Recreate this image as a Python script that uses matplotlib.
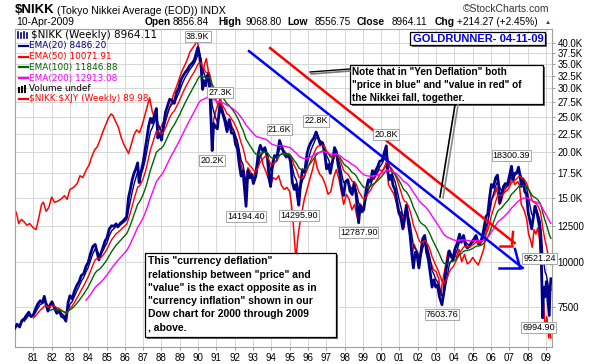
import numpy as np
import matplotlib
matplotlib.use("Agg")
import matplotlib.pyplot as plt
from matplotlib.patches import Rectangle
from matplotlib.ticker import NullLocator

# ---- data (weekly $NIKK, decimal years) ----
NIKK_DATES = [
    1980.00, 1980.12, 1980.25, 1980.38, 1980.50, 1980.62, 1980.75, 1980.88,
    1981.00, 1981.12, 1981.25, 1981.38, 1981.50, 1981.60, 1981.70, 1981.80, 1981.92,
    1982.02, 1982.15, 1982.28, 1982.42, 1982.55, 1982.68, 1982.78, 1982.90,
    1983.00, 1983.12, 1983.25, 1983.38, 1983.50, 1983.62, 1983.75, 1983.88,
    1984.00, 1984.12, 1984.25, 1984.38, 1984.48, 1984.58, 1984.70, 1984.82, 1984.92,
    1985.02, 1985.15, 1985.28, 1985.40, 1985.52, 1985.62, 1985.75, 1985.88,
    1986.00, 1986.10, 1986.20, 1986.30, 1986.40, 1986.50, 1986.60, 1986.70, 1986.78, 1986.88,
    1987.00, 1987.10, 1987.20, 1987.30, 1987.40, 1987.50, 1987.60, 1987.72, 1987.80, 1987.90,
    1988.00, 1988.10, 1988.22, 1988.35, 1988.45, 1988.58, 1988.70, 1988.82, 1988.95,
    1989.05, 1989.18, 1989.30, 1989.42, 1989.55, 1989.68, 1989.80, 1989.90, 1989.99,
    1990.08, 1990.16, 1990.25, 1990.32, 1990.42, 1990.50, 1990.58, 1990.64, 1990.70, 1990.77,
    1990.85, 1990.95, 1991.05, 1991.20, 1991.32, 1991.45, 1991.58, 1991.70, 1991.82, 1991.95,
    1992.05, 1992.15, 1992.25, 1992.35, 1992.45, 1992.55, 1992.62, 1992.72, 1992.82, 1992.92,
    1993.02, 1993.15, 1993.28, 1993.40, 1993.52, 1993.65, 1993.78, 1993.88, 1993.96,
    1994.06, 1994.18, 1994.30, 1994.45, 1994.58, 1994.70, 1994.82, 1994.95,
    1995.05, 1995.15, 1995.25, 1995.35, 1995.42, 1995.50, 1995.60, 1995.70, 1995.82, 1995.95,
    1996.05, 1996.18, 1996.32, 1996.45, 1996.55, 1996.68, 1996.80, 1996.92,
    1997.02, 1997.12, 1997.22, 1997.35, 1997.45, 1997.55, 1997.65, 1997.75, 1997.85, 1997.95,
    1998.05, 1998.18, 1998.30, 1998.42, 1998.52, 1998.62, 1998.70, 1998.77, 1998.85, 1998.95,
    1999.05, 1999.18, 1999.30, 1999.42, 1999.52, 1999.62, 1999.72, 1999.82, 1999.92,
    2000.05, 2000.15, 2000.28, 2000.36, 2000.45, 2000.55, 2000.65, 2000.75, 2000.85, 2000.95,
    2001.08, 2001.18, 2001.28, 2001.38, 2001.48, 2001.58, 2001.68, 2001.76, 2001.86, 2001.96,
    2002.06, 2002.16, 2002.28, 2002.38, 2002.48, 2002.58, 2002.68, 2002.78, 2002.88, 2002.98,
    2003.08, 2003.18, 2003.32, 2003.42, 2003.52, 2003.62, 2003.72, 2003.82, 2003.92,
    2004.02, 2004.15, 2004.28, 2004.38, 2004.50, 2004.60, 2004.70, 2004.82, 2004.92,
    2005.05, 2005.18, 2005.30, 2005.40, 2005.52, 2005.62, 2005.72, 2005.82, 2005.92,
    2006.02, 2006.12, 2006.25, 2006.35, 2006.43, 2006.48, 2006.58, 2006.68, 2006.78, 2006.90,
    2007.00, 2007.12, 2007.20, 2007.30, 2007.42, 2007.50, 2007.58, 2007.66, 2007.76, 2007.84, 2007.94,
    2008.03, 2008.12, 2008.22, 2008.30, 2008.40, 2008.50, 2008.58, 2008.68, 2008.76, 2008.82,
    2008.88, 2008.95, 2009.02, 2009.10, 2009.18, 2009.22, 2009.27,
]
NIKK_CLOSE = [
    6560, 6720, 6600, 6880, 6950, 7100, 7250, 7050,
    7120, 7400, 7650, 7800, 7700, 8020, 7600, 7300, 7600,
    7750, 7450, 7200, 7300, 7050, 7000, 6850, 7700,
    8050, 7900, 8300, 8600, 8800, 9150, 9250, 9700,
    9950, 10500, 11000, 11150, 10600, 10100, 10550, 11000, 11400,
    11600, 12300, 12550, 12500, 12700, 12450, 12750, 12900,
    13100, 13300, 15000, 15800, 16800, 17500, 18000, 18700, 16500, 17600,
    18800, 20200, 21800, 23600, 24800, 24100, 25200, 26400, 21900, 22600,
    21600, 23500, 25800, 27000, 28000, 27800, 27300, 29200, 30100,
    31500, 32500, 33200, 33800, 34700, 35200, 36000, 37500, 38916,
    37000, 34500, 29800, 31500, 30500, 32500, 33000, 29500, 25000, 20221,
    24000, 23500, 23200, 27270, 25800, 24500, 22800, 24600, 22600, 22500,
    21000, 20500, 18500, 17200, 17800, 15600, 14194.4, 17800, 17000, 17400,
    16400, 17200, 19800, 20900, 20200, 20600, 19400, 17000, 16100,
    18500, 19600, 19300, 21552, 20600, 19800, 19400, 19700,
    18800, 16500, 15800, 16300, 15200, 14295.9, 16400, 17900, 17600, 19800,
    20700, 21400, 21900, 22750, 22000, 21000, 21200, 19800,
    18000, 18500, 17500, 19000, 20600, 20100, 18400, 17400, 15800, 15200,
    16600, 16800, 15600, 15300, 16500, 15400, 14000, 12787.9, 14300, 13700,
    13900, 15800, 16800, 16600, 17800, 17400, 17900, 18300, 18900,
    19000, 19800, 20833, 17700, 16800, 17300, 16200, 15800, 14800, 13800,
    13200, 12300, 13300, 14300, 12800, 11800, 10400, 9600, 10600, 10400,
    9600, 10500, 11600, 11800, 10600, 10100, 9300, 8500, 8900, 8500,
    8600, 8000, 7603.76, 8200, 9300, 10000, 10700, 10400, 10100,
    10800, 11200, 11900, 11300, 11800, 11100, 10900, 11000, 11300,
    11500, 11800, 11200, 11200, 11700, 12400, 13300, 13500, 15000,
    16300, 16000, 17000, 17300, 16000, 14500, 15300, 16100, 16400, 16300,
    17200, 18300.39, 16800, 17500, 17600, 18200, 17300, 16100, 16800, 15600, 15300,
    13600, 13000, 12300, 13100, 14200, 13700, 13000, 12200, 9521.24, 6994.9,
    8500, 8000, 8800, 7900, 7100, 8300, 8964.11,
]

# $NIKK:$XJY ratio (Nikkei valued against the yen index)
RATIO_DATES = [
    1980.00, 1980.10, 1980.20, 1980.35, 1980.50, 1980.65, 1980.80,
    1981.00, 1981.15, 1981.30, 1981.45, 1981.55, 1981.70, 1981.85,
    1982.00, 1982.15, 1982.30, 1982.50, 1982.70, 1982.85,
    1983.00, 1983.20, 1983.40, 1983.55, 1983.70, 1983.90,
    1984.05, 1984.20, 1984.35, 1984.50, 1984.65, 1984.80, 1984.95,
    1985.10, 1985.25, 1985.35, 1985.50, 1985.65, 1985.80, 1985.95,
    1986.10, 1986.20, 1986.35, 1986.50, 1986.65, 1986.80, 1986.95,
    1987.10, 1987.25, 1987.35, 1987.50, 1987.65, 1987.80, 1987.90,
    1988.05, 1988.20, 1988.35, 1988.50, 1988.65, 1988.80, 1988.95,
    1989.10, 1989.25, 1989.40, 1989.55, 1989.70, 1989.85, 1989.95,
    1990.05, 1990.15, 1990.25, 1990.35, 1990.45, 1990.55, 1990.65, 1990.75, 1990.85, 1990.95,
    1991.10, 1991.22, 1991.35, 1991.50, 1991.65, 1991.75, 1991.90,
    1992.05, 1992.20, 1992.35, 1992.50, 1992.62, 1992.72, 1992.85,
    1993.00, 1993.15, 1993.30, 1993.42, 1993.55, 1993.70, 1993.85, 1993.95,
    1994.10, 1994.25, 1994.40, 1994.55, 1994.70, 1994.85,
    1995.00, 1995.10, 1995.20, 1995.30, 1995.35, 1995.45, 1995.55, 1995.65, 1995.80, 1995.95,
    1996.10, 1996.25, 1996.40, 1996.50, 1996.65, 1996.80, 1996.95,
    1997.10, 1997.25, 1997.40, 1997.55, 1997.70, 1997.85, 1997.95,
    1998.10, 1998.25, 1998.40, 1998.55, 1998.65, 1998.77, 1998.85,
    1999.00, 1999.15, 1999.30, 1999.45, 1999.60, 1999.75, 1999.90,
    2000.05, 2000.20, 2000.30, 2000.40, 2000.55, 2000.70, 2000.85, 2000.95,
    2001.10, 2001.25, 2001.35, 2001.45, 2001.55, 2001.70, 2001.80, 2001.95,
    2002.10, 2002.25, 2002.40, 2002.55, 2002.70, 2002.85,
    2003.00, 2003.15, 2003.25, 2003.35, 2003.50, 2003.65, 2003.80, 2003.95,
    2004.10, 2004.25, 2004.40, 2004.55, 2004.70, 2004.85,
    2005.00, 2005.15, 2005.30, 2005.45, 2005.60, 2005.75, 2005.90,
    2006.05, 2006.20, 2006.30, 2006.45, 2006.55, 2006.70, 2006.85,
    2007.00, 2007.15, 2007.30, 2007.45, 2007.55, 2007.65, 2007.80, 2007.95,
    2008.05, 2008.15, 2008.25, 2008.35, 2008.45, 2008.55, 2008.65, 2008.75, 2008.82,
    2008.88, 2008.95, 2009.05, 2009.15, 2009.22, 2009.27,
]
RATIO_VALS = [
    203, 197, 186, 191, 188, 184, 186,
    181, 179, 193, 210, 213, 201, 206,
    220, 213, 214, 217, 222, 217,
    231, 234, 240, 252, 249, 262,
    270, 285, 297, 303, 317, 333, 348,
    363, 373, 369, 355, 342, 321, 307,
    297, 290, 307, 327, 337, 331, 348,
    371, 395, 413, 378, 363, 348, 337,
    350, 359, 378, 395, 421, 440, 463,
    487, 505, 525, 552, 566, 581, 596,
    559, 518, 477, 511, 530, 493, 408, 321, 359, 378,
    398, 413, 383, 355, 337, 359, 337,
    321, 301, 270, 254, 238, 265, 259,
    249, 262, 282, 288, 270, 259, 246, 237,
    249, 246, 252, 237, 231, 234,
    228, 210, 185, 158, 150, 170, 185, 197, 217, 231,
    246, 262, 282, 265, 254, 249, 238,
    224, 228, 249, 262, 246, 224, 210,
    224, 217, 203, 210, 197, 188, 203,
    206, 217, 238, 249, 246, 254, 262,
    259, 265, 270, 238, 231, 224, 210, 197,
    201, 181, 197, 201, 179, 153, 163, 156,
    150, 168, 170, 158, 146, 139,
    137, 131, 118, 129, 141, 156, 150, 153,
    150, 158, 146, 153, 144, 146,
    150, 146, 143, 150, 158, 177, 197,
    217, 224, 234, 210, 214, 228, 234,
    238, 249, 238, 243, 238, 210, 203, 191,
    174, 168, 160, 179, 174, 181, 168, 139, 102,
    112, 95, 103, 90, 95, 89.98,
]

TICK_VALUES = [40000, 37500, 35000, 32500, 30000, 27500, 25000, 22500, 20000,
               17500, 15000, 12500, 10000, 7500]
TICK_LABELS = ["40.0K", "37.5K", "35.0K", "32.5K", "30.0K", "27.5K", "25.0K",
               "22.5K", "20.0K", "17.5K", "15.0K", "12500", "10000", "7500"]
YEARS = list(range(1981, 2010))
YEAR_LABELS = [f"{y % 100:02d}" for y in YEARS]

LABEL_DATES = [1989.99, 1991.20, 1990.77, 1994.45, 1996.45, 2000.28, 1992.62,
               1995.50, 1998.77, 2003.32, 2007.12, 2008.76, 2008.82]
LABEL_TEXTS = ["38.9K", "27.3K", "20.2K", "21.6K", "22.8K", "20.8K", "14194.40",
               "14295.90", "12787.90", "7603.76", "18300.39", "9521.24", "6994.90"]
LABEL_ABOVE = [True, True, False, True, True, True, False,
               False, False, False, True, True, False]

EMA_SPANS = [20, 50, 100, 200]
EMA_COLORS = ["#000080", "#ff0000", "#006400", "#ff00ff"]

LEGEND_TEXT = ["EMA(20) 8486.20", "EMA(50) 10071.91", "EMA(100) 11846.88",
               "EMA(200) 12913.08"]

NOTE_TOP = ['Note that in "Yen Deflation" both',
            '"price in blue" and "value in red" of',
            'the Nikkei fall, together.']
NOTE_BOTTOM = ['This "currency deflation"',
               'relationship between "price" and',
               '"value" is the exact opposite as in',
               '"currency inflation" shown in our',
               'Dow chart for 2000 through 2009',
               ', above.']

# hand-drawn trend lines (year, price)
BLUE_TREND = [(1992.78, 38000), (2007.73, 9600)]
RED_TREND = [(1993.93, 38750), (2007.29, 11250)]

RATIO_SCALE = 68.4   # hidden overlay scale of the ratio vs. the price axis
WEEKS = 52.18


def ema(t, v, n):
    """EMA on irregular samples, hidden until n weeks of data exist."""
    t = np.asarray(t, float)
    v = np.asarray(v, float)
    alpha = 2.0 / (n + 1)
    out = np.empty_like(v)
    out[0] = v[0]
    for i in range(1, len(v)):
        k = 1 - (1 - alpha) ** ((t[i] - t[i - 1]) * WEEKS)
        out[i] = out[i - 1] + k * (v[i] - out[i - 1])
    out[t < t[0] + n / WEEKS] = np.nan
    return out


W, H = 600, 364
plt.rcParams["font.family"] = ["Liberation Sans", "DejaVu Sans"]
plt.rcParams["text.parse_math"] = False

fig = plt.figure(figsize=(W / 100, H / 100), dpi=100)
fig.patch.set_facecolor("white")
ax = fig.add_axes([15 / W, 1 - 347 / H, 537 / W, 318 / H])

ax.set_yscale("log")
ax.set_xlim(1980.0, 2009.33)
ax.set_ylim(5814, 43720)

for yv in TICK_VALUES:
    ax.axhline(yv, color="#d6d6d6", lw=0.7, zorder=0)
for yr in YEARS:
    ax.axvline(yr, color="#d6d6d6", lw=0.7, zorder=0)

ax.plot(RATIO_DATES, np.array(RATIO_VALS) * RATIO_SCALE, color="#ff0000",
        lw=1.1, zorder=2)
ax.plot(NIKK_DATES, NIKK_CLOSE, color="#00008b", lw=2.0, zorder=3)
for n, c in zip(EMA_SPANS, EMA_COLORS):
    ax.plot(NIKK_DATES, ema(NIKK_DATES, NIKK_CLOSE, n), color=c, lw=1.0, zorder=4)

ax.plot(*zip(*BLUE_TREND), color="#0000ff", lw=1.8, zorder=5)
ax.plot(*zip(*RED_TREND), color="#ff0000", lw=1.8, zorder=5)

for d, txt, up in zip(LABEL_DATES, LABEL_TEXTS, LABEL_ABOVE):
    val = NIKK_CLOSE[NIKK_DATES.index(d)]
    dx = -4 if txt == "6994.90" else (-2 if txt == "9521.24" else 0)
    ax.annotate(txt, xy=(d, val), xytext=(dx, 11 if up else -10),
                textcoords="offset pixels", ha="center", va="center",
                fontsize=6.5, zorder=8,
                bbox=dict(boxstyle="square,pad=0.12", fc="white", ec="#9a9a9a", lw=0.6))

ax.yaxis.tick_right()
ax.yaxis.set_minor_locator(NullLocator())
ax.set_yticks(TICK_VALUES, TICK_LABELS)
ax.set_xticks(YEARS, YEAR_LABELS)
ax.xaxis.set_minor_locator(NullLocator())
ax.tick_params(axis="both", labelsize=7, length=2.5, width=0.6, color="#888888",
               pad=1.5)
for s in ax.spines.values():
    s.set_color("#a0a0a0")
    s.set_linewidth(0.8)

# ---- pixel overlay for header, legend and callouts ----
ov = fig.add_axes([0, 0, 1, 1], zorder=10)
ov.set_xlim(0, W)
ov.set_ylim(H, 0)
ov.axis("off")
ov.patch.set_visible(False)

ov.text(15, 10, "$NIKK", fontsize=9.5, fontweight="bold", va="center")
ov.text(57, 10.5, "(Tokyo Nikkei Average (EOD)) INDX", fontsize=7.6, va="center")
ov.text(463, 9, "\u00a9StockCharts.com", fontsize=7.5, va="center", color="#333333")
ov.text(16, 22, "10-Apr-2009", fontsize=7.5, va="center")
hdr = [(145, "Open", True), (173, "8856.84", False), (218, "High", True),
       (245, "9068.80", False), (287, "Low", True), (315, "8556.75", False),
       (357, "Close", True), (392, "8964.11", False), (435, "Chg", True),
       (457, "+214.27 (+2.45%)", False)]
for x, s, b in hdr:
    ov.text(x, 22, s, fontsize=7.4 if b else 7.2, fontweight="bold" if b else "normal",
            va="center")
ov.text(545, 22, "\u25b2", fontsize=4.5, va="center", color="#006400")

# legend
rows = [35, 45.7, 56.5, 67.3, 78, 88.5, 98.5]
for i, x in enumerate([18, 21, 24, 27]):
    ov.plot([x, x], [rows[0] - 3 + (i % 2), rows[0] + 3], color="#000080", lw=1.2)
ov.text(31, rows[0], "$NIKK (Weekly) 8964.11", fontsize=7.5, va="center",
        family="DejaVu Sans")
for r, txt, c in zip(rows[1:5], LEGEND_TEXT, EMA_COLORS):
    ov.plot([19, 28], [r, r], color=c, lw=1.6)
    ov.text(29, r, txt, fontsize=6.4, va="center", color=c, family="DejaVu Sans")
for i, x in enumerate([19, 22, 25]):
    ov.plot([x, x], [rows[5] + 3, rows[5] - 1 - i], color="black", lw=1.5)
ov.text(29, rows[5], "Volume undef", fontsize=6.4, va="center", family="DejaVu Sans")
ov.plot([19, 28], [rows[6], rows[6]], color="#ff0000", lw=1.6)
ov.text(29, rows[6], "$NIKK:$XJY (Weekly) 89.98", fontsize=6.4, va="center",
        color="#ff0000", family="DejaVu Sans")


def shadow_box(x0, y0, x1, y1):
    ov.add_patch(Rectangle((x0 + 2, y0 + 2), x1 - x0, y1 - y0, fc="#666666", ec="none"))
    ov.add_patch(Rectangle((x0, y0), x1 - x0, y1 - y0, fc="white", ec="black", lw=0.9))


shadow_box(410, 32, 545, 45)
ov.text(413, 38.5, "GOLDRUNNER- 04-11-09", fontsize=8, fontweight="bold",
        color="#0000e0", va="center")

# pointer lines of the upper note
ov.plot([311, 350], [74, 71], color="#777777", lw=1.2)
ov.plot([310, 350], [72, 69], color="black", lw=1.0)
ov.plot([458, 443], [105, 198], color="#888888", lw=1.2)
ov.plot([455, 440], [105, 197], color="black", lw=1.2)
shadow_box(350, 65, 543, 104)
for i, s in enumerate(NOTE_TOP):
    ov.text(352, 72 + i * 13, s, fontsize=7.2, fontweight="bold", va="center")

shadow_box(145, 253, 336, 337)
for i, s in enumerate(NOTE_BOTTOM):
    ov.text(148, 261.5 + i * 13.2, s, fontsize=7.5, fontweight="bold", va="center")

# arrow heads at the end of the trend lines
ov.plot([515, 520], [249, 268], color="#0000ff", lw=1.8)
ov.plot([499, 520], [268, 268], color="#0000ff", lw=1.8)
ov.plot([513, 512], [232, 244], color="#ff0000", lw=1.8)
ov.plot([500, 512], [246, 246], color="#ff0000", lw=1.8)

fig.savefig("out.png", dpi=100, facecolor="white")
